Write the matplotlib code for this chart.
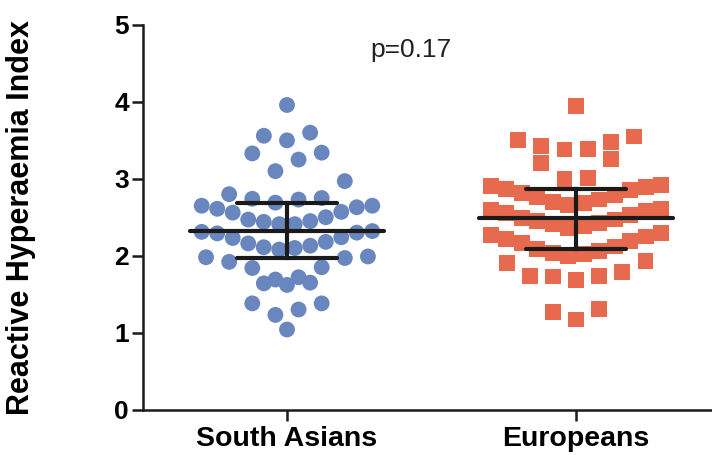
import numpy as np
import matplotlib
matplotlib.use("Agg")
import matplotlib.pyplot as plt

# values
groups = ["South Asians", "Europeans"]

south_asians = [
    3.96,
    3.50, 3.56, 3.60,
    3.10, 3.25, 3.33, 3.34,
    2.69, 2.73, 2.74, 2.75, 2.80, 2.97,
    2.41, 2.41, 2.44, 2.45, 2.47, 2.50, 2.56, 2.57, 2.61, 2.63, 2.65, 2.65,
    2.08, 2.10, 2.11, 2.13, 2.16, 2.18, 2.23, 2.24, 2.29, 2.30, 2.31, 2.32,
    1.69, 1.72, 1.84, 1.85, 1.92, 1.97, 1.98, 1.99,
    1.62, 1.64, 1.65,
    1.23, 1.30, 1.38, 1.38,
    1.04,
]

europeans = [
    3.95,
    3.38, 3.39, 3.43, 3.48, 3.50, 3.55,
    3.00, 3.01, 3.21, 3.26,
    2.66, 2.68, 2.70, 2.73, 2.76, 2.79, 2.82, 2.85, 2.87, 2.89, 2.91, 2.92,
    2.36, 2.38, 2.41, 2.43, 2.45, 2.47, 2.49, 2.53, 2.56, 2.58, 2.60, 2.61,
    2.00, 2.02, 2.04, 2.06, 2.09, 2.12, 2.16, 2.19, 2.22, 2.25, 2.27, 2.29,
    1.68, 1.73, 1.74, 1.74, 1.79, 1.90, 1.93,
    1.17, 1.27, 1.31,
]

p_text = "p=0.17"

# row boundaries used to lay the dots out side by side (layout only)
row_edges = [
    [1.15, 1.5, 1.67, 2.04, 2.36, 2.67, 3.05, 3.45, 3.8],
    [1.5, 1.96, 2.33, 2.635, 2.96, 3.32, 3.7],
]


def swarm_offsets(values, edges, step=0.08, half_width=0.295):
    """Put the dots of each row next to each other, lowest in the middle."""
    vals = np.asarray(values)
    rows = np.digitize(vals, edges)
    x = np.zeros(len(vals))
    for r in np.unique(rows):
        idx = np.where(rows == r)[0]
        idx = idx[np.argsort(vals[idx])]
        n = len(idx)
        s = step if n < 2 else min(step, 2 * half_width / (n - 1))
        slots = np.arange(n) - (n - 1) / 2
        order = np.argsort(np.abs(slots) + 1e-6 * slots)
        x[idx] = slots[order] * s
    return x


plt.rcParams['font.family'] = ['Liberation Sans', 'DejaVu Sans']

fig = plt.figure(figsize=(7.12, 4.55), dpi=100)
ax = fig.add_axes([143 / 712, 45.5 / 455, 569 / 712, 384.5 / 455])

data = [south_asians, europeans]
colors = ["#6a86be", "#e86a4e"]
markers = ["o", "s"]

for i, vals in enumerate(data):
    xs = i + swarm_offsets(vals, row_edges[i])
    ax.scatter(xs, vals, s=130, marker=markers[i], color=colors[i],
               edgecolors="none", zorder=2, clip_on=False)

    # median with interquartile range
    q1, med, q3 = np.percentile(vals, [25, 50, 75])
    ax.plot([i - 0.336, i + 0.336], [med, med], color="#1a1a1a", lw=3,
            solid_capstyle="round", zorder=3)
    ax.plot([i - 0.173, i + 0.173], [q1, q1], color="#1a1a1a", lw=3,
            solid_capstyle="round", zorder=3)
    ax.plot([i - 0.173, i + 0.173], [q3, q3], color="#1a1a1a", lw=3,
            solid_capstyle="round", zorder=3)
    ax.plot([i, i], [q1, q3], color="#1a1a1a", lw=3, zorder=3)

ax.text(0.43, 4.68, p_text, ha="center", va="center", fontsize=19,
        color="#222222")

ax.set_xlim(-0.498, 1.47)
ax.set_ylim(0, 5)
ax.set_xticks([0, 1])
ax.set_xticklabels(groups, fontsize=20.5, fontweight="bold")
ax.set_yticks(range(6))
ax.set_yticklabels([str(v) for v in range(6)], fontsize=19, fontweight="bold")
ax.set_ylabel("Reactive Hyperaemia Index", fontsize=22, fontweight="bold")
ax.yaxis.set_label_coords(-0.188, 0.5)

for side in ["top", "right"]:
    ax.spines[side].set_visible(False)
for side in ["left", "bottom"]:
    ax.spines[side].set_linewidth(1.8)
    ax.spines[side].set_color("#1a1a1a")
ax.tick_params(axis="both", width=1.8, length=8, color="#1a1a1a")
ax.tick_params(axis="y", pad=2)
ax.tick_params(axis="x", pad=4)

fig.savefig("out.png", dpi=100)
